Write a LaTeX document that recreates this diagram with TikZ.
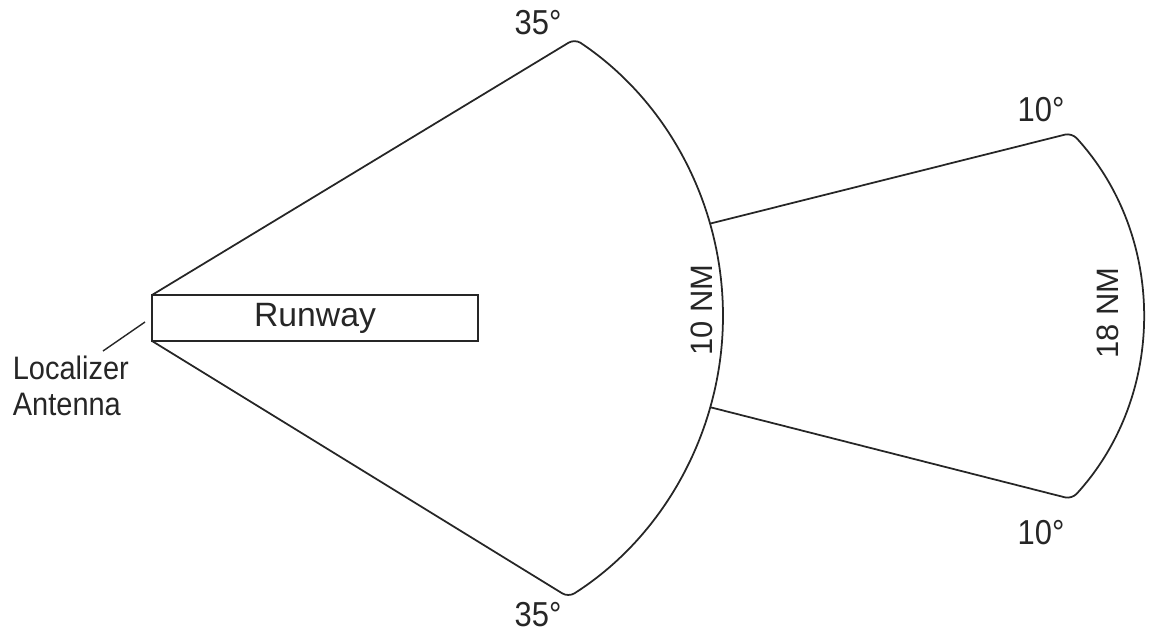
\documentclass[tikz,border=0pt]{standalone}
\usepackage{fontspec}
\setmainfont{Liberation Sans}
\usetikzlibrary{positioning,calc}

\begin{document}
\begin{tikzpicture}[x=.02cm, y=.02cm, line width=1pt, black!85,
    lbl/.style={font=\fontsize{17.6}{20}\selectfont, text=black!85, inner sep=0pt},
    tall/.style={yscale=1.12, transform shape},
    rwy/.style={draw, minimum width=6.52cm, minimum height=.92cm, inner sep=0pt, outer sep=0pt,
      font=\fontsize{19.2}{22}\selectfont}]
    \useasboundingbox (0,0) rectangle (1149,640);
    % runway and localizer antenna
    \node[rwy] (runway) at (315,322) {Runway};
    \node[lbl, tall, anchor=base west, align=left, font=\fontsize{16.5}{18}\selectfont] (loc) at (12,225) {Localizer\\Antenna};
    \coordinate (leadend) at (103,289);
    \coordinate (antpt) at (145,318);
    \draw[line width=.8pt] (leadend) -- (antpt);
    % 35 deg sector, out to 10 NM
    \coordinate (bigc) at (390,324);
    \coordinate (bigtop) at ($(bigc)+(56.3:333)$);
    \coordinate (bigbot) at ($(bigc)+(-57.6:333)$);
    \draw[rounded corners=4pt] (runway.north west) -- (bigtop) arc[start angle=56.3, end angle=-57.6, radius=333] -- (runway.south west);
    % 10 deg sector, out to 18 NM
    \coordinate (smc) at (872,324);
    \coordinate (joinup) at ($(bigc)+(16.1:333)$);
    \coordinate (joindn) at ($(bigc)+(-15.9:333)$);
    \coordinate (smtop) at ($(smc)+(42.5:271)$);
    \draw[rounded corners=4pt] (joinup) -- (smtop) arc[start angle=42.5, end angle=-42.5, radius=271] -- (joindn);
    % labels
    \node[lbl, tall] (degtl) at (538,617) {35°};
    \node[lbl, tall] (degbl) at (538,25) {35°};
    \node[lbl, tall] (degtr) at (1041,530) {10°};
    \node[lbl, tall] (degbr) at (1041,107) {10°};
    \node[lbl, rotate=90] (tennm) at (702,330) {10 NM};
    \node[lbl, rotate=90] (eighteennm) at (1108,327) {18 NM};
\end{tikzpicture}
\end{document}
